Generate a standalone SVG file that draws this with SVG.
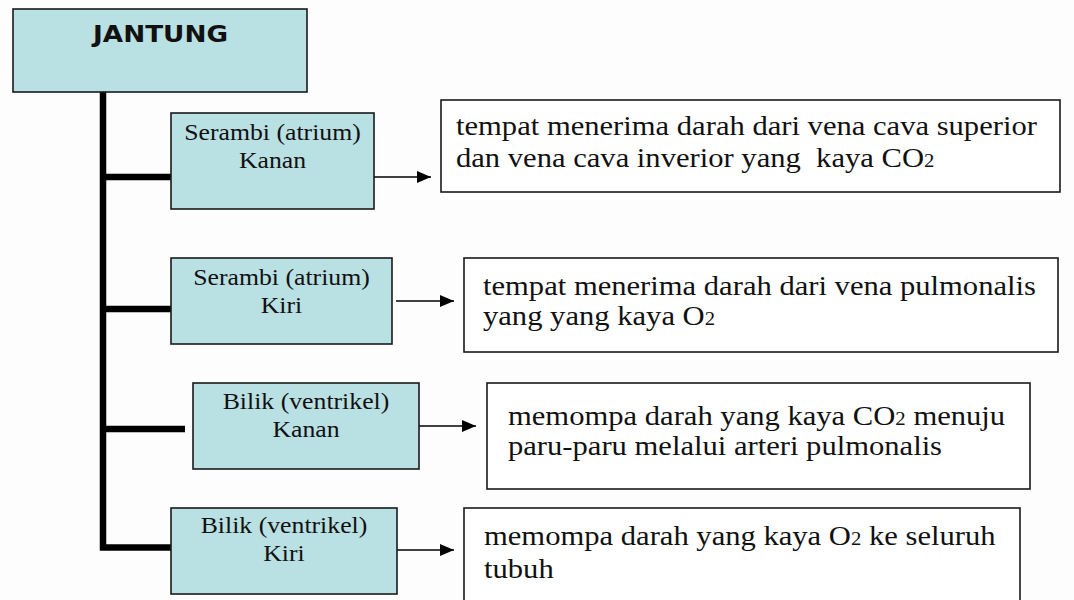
<svg xmlns="http://www.w3.org/2000/svg" width="1074" height="600" viewBox="0 0 1074 600">
<defs>
<style>
.node{fill:#b9e0e3;stroke:#1a1a1a;stroke-width:1.6}
.desc{fill:#ffffff;stroke:#1a1a1a;stroke-width:1.6}
.t{font-family:"Liberation Serif","Times New Roman",serif;font-size:23px;fill:#111}
.d{font-family:"Liberation Serif","Times New Roman",serif;font-size:26.5px;fill:#111}
.sub{font-size:18px}
.bar{stroke:#000;stroke-width:6.5;fill:none}
.arr{stroke:#000;stroke-width:1.6;fill:none;marker-end:url(#ah)}
</style>
<marker id="ah" viewBox="0 0 14 12" refX="14" refY="6" markerWidth="14" markerHeight="12" markerUnits="userSpaceOnUse" orient="auto">
<path d="M0,0 L14,6 L0,12 z" fill="#000"/>
</marker>
</defs>
<rect width="1074" height="600" fill="#fdfdfd"/>
<g id="connectors">
<path class="bar" d="M103,92 V550.5 M100,177 H171 M100,309 H171 M100,429 H185 M100,547.5 H171"/>
<line class="arr" x1="374" y1="177" x2="431" y2="177"/>
<line class="arr" x1="396" y1="301" x2="454" y2="301"/>
<line class="arr" x1="419" y1="426" x2="476" y2="426"/>
<line class="arr" x1="397" y1="550" x2="454" y2="550"/>
</g>
<g id="jantung">
<rect class="node" x="13" y="9" width="294" height="83"/>
<text x="160.5" y="42" text-anchor="middle" textLength="135" lengthAdjust="spacingAndGlyphs" style="font-family:'DejaVu Sans',sans-serif;font-weight:bold;font-size:23px" fill="#111">JANTUNG</text>
</g>
<g id="atrium-kanan">
<rect class="node" x="171" y="113" width="203" height="96"/>
<text class="t" text-anchor="middle" transform="translate(272.5,140) scale(1.12,1)">Serambi (atrium)</text>
<text class="t" text-anchor="middle" transform="translate(272.5,168) scale(1.12,1)">Kanan</text>
</g>
<g id="atrium-kiri">
<rect class="node" x="171" y="258" width="221" height="86"/>
<text class="t" text-anchor="middle" transform="translate(281.5,285) scale(1.12,1)">Serambi (atrium)</text>
<text class="t" text-anchor="middle" transform="translate(281.5,313) scale(1.12,1)">Kiri</text>
</g>
<g id="ventrikel-kanan">
<rect class="node" x="193" y="383" width="226" height="86"/>
<text class="t" text-anchor="middle" transform="translate(306,409) scale(1.12,1)">Bilik (ventrikel)</text>
<text class="t" text-anchor="middle" transform="translate(306,437) scale(1.12,1)">Kanan</text>
</g>
<g id="ventrikel-kiri">
<rect class="node" x="171" y="508" width="226" height="86"/>
<text class="t" text-anchor="middle" transform="translate(284,533) scale(1.12,1)">Bilik (ventrikel)</text>
<text class="t" text-anchor="middle" transform="translate(284,561) scale(1.12,1)">Kiri</text>
</g>
<g id="desc-atrium-kanan">
<rect class="desc" x="441" y="100" width="619" height="92"/>
<text class="d" transform="translate(456,135) scale(1.155,1)">tempat menerima darah dari vena cava superior</text>
<text class="d" xml:space="preserve" transform="translate(456,167) scale(1.155,1)">dan vena cava inverior yang  kaya CO<tspan class="sub">2</tspan></text>
</g>
<g id="desc-atrium-kiri">
<rect class="desc" x="464" y="258" width="594" height="94"/>
<text class="d" transform="translate(483,295) scale(1.155,1)">tempat menerima darah dari vena pulmonalis</text>
<text class="d" transform="translate(483,325) scale(1.155,1)">yang yang kaya O<tspan class="sub">2</tspan></text>
</g>
<g id="desc-ventrikel-kanan">
<rect class="desc" x="487" y="383" width="543" height="106"/>
<text class="d" transform="translate(508,425) scale(1.155,1)">memompa darah yang kaya CO<tspan class="sub">2</tspan> menuju</text>
<text class="d" transform="translate(508,455) scale(1.155,1)">paru-paru melalui arteri pulmonalis</text>
</g>
<g id="desc-ventrikel-kiri">
<rect class="desc" x="464" y="508" width="556" height="100"/>
<text class="d" transform="translate(484,545) scale(1.155,1)">memompa darah yang kaya O<tspan class="sub">2</tspan> ke seluruh</text>
<text class="d" transform="translate(484,578) scale(1.155,1)">tubuh</text>
</g>
</svg>
